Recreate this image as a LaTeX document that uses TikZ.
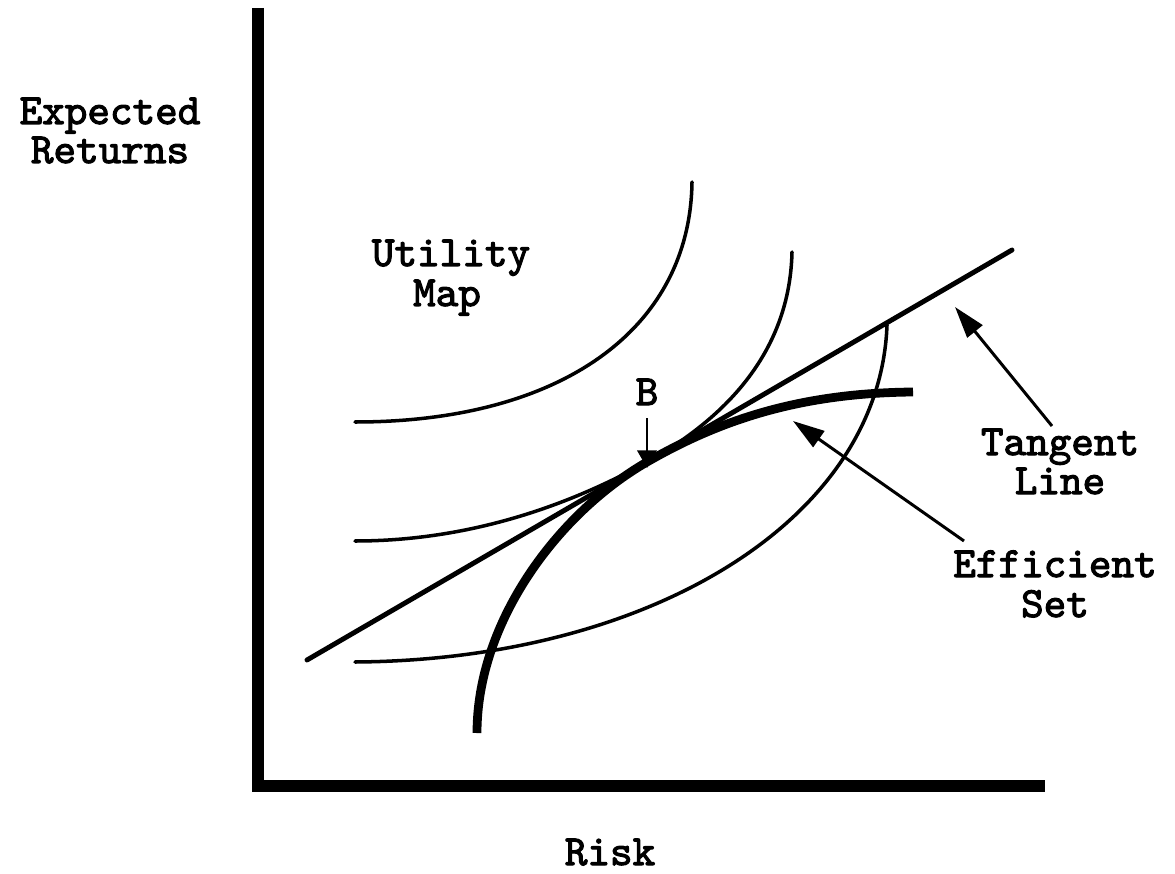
\documentclass[tikz,border=0pt]{standalone}
\usepackage{fontspec}
\newfontfamily\courb[FakeBold=2.5]{lmmono10-regular.otf}
\usetikzlibrary{arrows.meta}
\begin{document}
\begin{tikzpicture}[x=0.02cm,y=-0.02cm,
  lbl/.style={font=\courb\fontsize{24.5}{24}\selectfont, anchor=base, inner sep=0pt},
  axis/.style={line width=6.8pt},
  tline/.style={line width=2.8pt, line cap=round},
  eff/.style={line width=5pt},
  indiff/.style={line width=2pt, line cap=round},
  pointer/.style={line width=1.7pt, -{Triangle[length=18pt,width=11pt]}},
  bpointer/.style={line width=1.5pt, -{Triangle[length=10pt,width=11pt]}}]
\useasboundingbox (0,0) rectangle (1175,874);
% axes
\draw[axis] (258,8) -- (258,786) -- (1045,786);
% labels
\node[lbl] (er1) at (110,124) {Expected};
\node[lbl] (er2) at (110,163) {Returns};
\node[lbl] (risk) at (610,865) {Risk};
\node[lbl] (um1) at (451,266) {Utility};
\node[lbl] (um2) at (447,306) {Map};
\node[lbl] (tl1) at (1060,455) {Tangent};
\node[lbl] (tl2) at (1060,494) {Line};
\node[lbl] (es1) at (1055,577) {Efficient};
\node[lbl] (es2) at (1055,617) {Set};
\node[lbl] (b) at (647,405) {B};
% indifference curves
\draw[indiff] (355,422) .. controls (560,422) and (690,330) .. (692,182);
\draw[indiff] (355,541) .. controls (470,541) and (570,505) .. (647,462)
  .. controls (740,410) and (790,340) .. (792,252);
\draw[indiff] (355,662) .. controls (650,660) and (880,520) .. (887,325);
% tangent line
\coordinate (t0) at (307,660);
\coordinate (t1) at (1012,250);
\draw[tline] (t0) -- (t1);
% efficient set
\draw[eff] (477,733) .. controls (477,620) and (560,512) .. (647,462)
  .. controls (720,420) and (800,393) .. (913,392);
% pointers
\coordinate (bs) at (647,418);
\coordinate (bt) at (647,468);
\coordinate (tls) at (1052,426);
\coordinate (tlt) at (955,307);
\coordinate (ess) at (964,541);
\coordinate (est) at (793,421);
\draw[bpointer] (bs) -- (bt);
\draw[pointer] (tls) -- (tlt);
\draw[pointer] (ess) -- (est);
\end{tikzpicture}
\end{document}
